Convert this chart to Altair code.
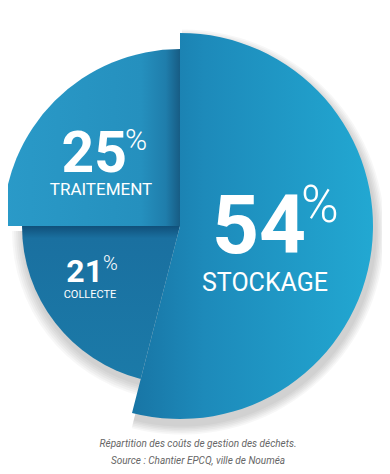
import math
import altair as alt
import pandas as pd

# ---- data -------------------------------------------------------------
categories = ["STOCKAGE", "COLLECTE", "TRAITEMENT"]
valeurs = [54, 21, 25]
legende_1 = "Répartition des coûts de gestion des déchets."
legende_2 = "Source : Chantier EPCQ, ville de Nouméa"

df = pd.DataFrame({"categorie": categories, "valeur": valeurs})

# ---- geometry / style (chart coordinates) ----------------------------
CX, CY = 172, 218
W, H = 374, 458

base = (
    alt.Chart(df)
    .transform_joinaggregate(total="sum(valeur)")
    .transform_window(cumul="sum(valeur)", frame=[None, 0])
    .transform_calculate(
        debut="2*PI*(datum.cumul - datum.valeur)/datum.total",
        fin="2*PI*datum.cumul/datum.total",
    )
)


def grad(stops, x2=1, y2=0):
    return alt.LinearGradient(
        gradient="linear",
        stops=[alt.GradientStop(color=c, offset=o) for o, c in stops],
        x1=0, y1=0, x2=x2, y2=y2,
    )


def part(cat, radius, fill, dx=0, dy=0, opacity=1.0):
    return (
        base.transform_filter(alt.datum.categorie == cat)
        .mark_arc(radius=radius, fill=fill, opacity=opacity, strokeWidth=0)
        .encode(
            theta=alt.Theta("debut:Q", scale=None),
            theta2=alt.Theta2("fin:Q"),
            x=alt.value(CX + dx),
            y=alt.value(CY + dy),
        )
    )


layers = []
# soft shadows
for k in range(1, 7):
    layers.append(part("STOCKAGE", 193 + 1.6 * k, "#000000", dx=2, dy=6, opacity=0.03))
    layers.append(part("COLLECTE", 158 + 2 * k, "#000000", dx=2, dy=5, opacity=0.03))

layers.append(part("COLLECTE", 158, grad([(0, "#10507a"), (0.08, "#1a70a0"), (1, "#1b7aa8")], x2=0, y2=1)))
layers.append(part("TRAITEMENT", 177, grad([(0, "#2a9ac8"), (0.78, "#2590be"), (0.92, "#1f7dab"), (1, "#175c84")])))
layers.append(part("STOCKAGE", 193, grad([(0, "#1875a5"), (0.3, "#1d8aba"), (1, "#22a8d2")])))


def txt(cat, x, y, size, weight=400, align="center", text=None, field=None):
    enc = dict(x=alt.value(x), y=alt.value(y))
    if field is not None:
        enc["text"] = alt.Text(field)
    kw = dict(fontSize=size, fontWeight=weight, align=align, baseline="alphabetic",
              font="Roboto", color="#ffffff")
    if text is not None:
        kw["text"] = text
    return base.transform_filter(alt.datum.categorie == cat).mark_text(**kw).encode(**enc)


# STOCKAGE
layers.append(txt("STOCKAGE", 298, 245, 82, 700, "right", field="valeur:Q"))
layers.append(txt("STOCKAGE", 293, 214, 51, 300, "left", text="%"))
layers.append(txt("STOCKAGE", 257, 283, 25, 400, "center", field="categorie:N"))
# TRAITEMENT
layers.append(txt("TRAITEMENT", 119, 164, 57, 700, "right", field="valeur:Q"))
layers.append(txt("TRAITEMENT", 117, 142, 30, 300, "left", text="%"))
layers.append(txt("TRAITEMENT", 93, 187, 17, 400, "center", field="categorie:N"))
# COLLECTE
layers.append(txt("COLLECTE", 95, 274, 32, 700, "right", field="valeur:Q"))
layers.append(txt("COLLECTE", 95, 262, 20, 300, "left", text="%"))
layers.append(txt("COLLECTE", 82, 290, 11, 400, "center", field="categorie:N"))

# caption
for ligne, yy in ((legende_1, 439), (legende_2, 456)):
    layers.append(
        alt.Chart(pd.DataFrame({"t": [ligne]}))
        .mark_text(fontSize=10, fontStyle="italic", color="#666666", align="center",
                   baseline="alphabetic", font="Roboto")
        .encode(text="t:N", x=alt.value(190), y=alt.value(yy))
    )

chart = (
    alt.layer(*layers)
    .properties(width=W, height=H, padding=0, autosize=alt.AutoSizeParams(type="none"),
                view=alt.ViewBackground(strokeWidth=0, stroke="transparent"))
    .configure_view(strokeWidth=0, stroke="transparent")
    .configure(background="transparent")
)

chart.save("out.html", embed_options={"renderer": "svg", "actions": False})
